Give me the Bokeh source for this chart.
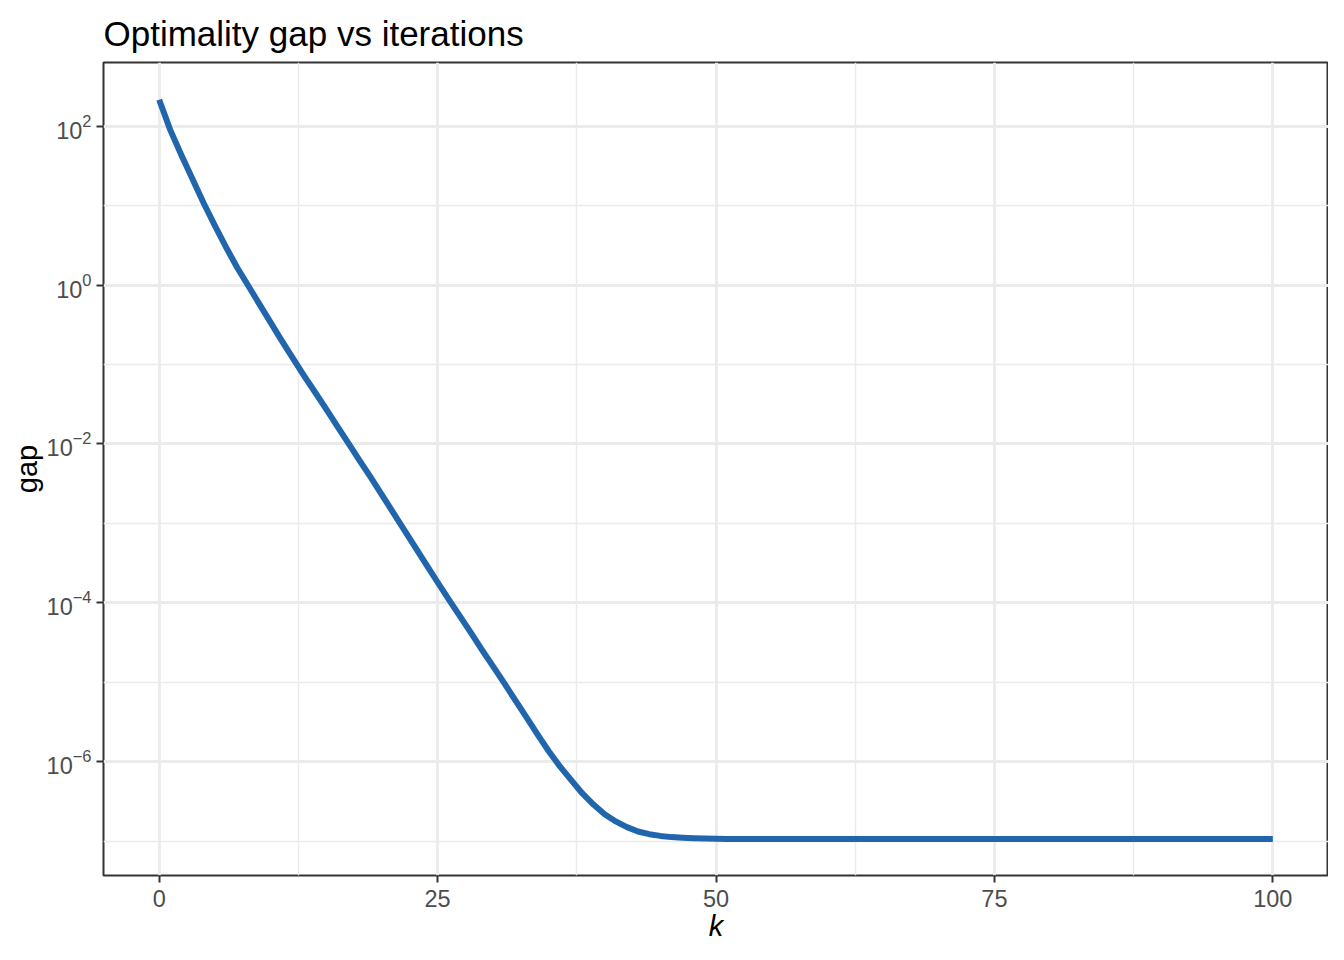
from bokeh.plotting import figure
from bokeh.models import Range1d, FixedTicker, LogTickFormatter
from bokeh.embed import file_html
from bokeh.resources import INLINE

# ---- data ----
k = list(range(101))
gap = [
    214, 89, 43, 21.4, 10.7, 5.6, 3.0, 1.66, 0.98, 0.575,
    0.339, 0.200, 0.120, 0.0724, 0.0447, 0.0275, 0.0166, 0.0102, 0.00617, 0.0038,
    0.00229, 0.00138, 0.000832, 0.000501, 0.000302, 0.000182, 0.000111, 6.8e-5, 4.2e-5, 2.55e-5,
    1.58e-5, 9.7e-6, 5.9e-6, 3.6e-6, 2.19e-6, 1.35e-6, 8.7e-7, 5.9e-7, 4.0e-7, 2.9e-7,
    2.19e-7, 1.78e-7, 1.51e-7, 1.33e-7, 1.23e-7, 1.17e-7, 1.13e-7, 1.11e-7, 1.095e-7, 1.085e-7,
    1.08e-7, 1.07e-7, 1.07e-7, 1.07e-7, 1.07e-7, 1.07e-7, 1.07e-7, 1.07e-7, 1.07e-7, 1.07e-7,
    1.07e-7, 1.07e-7, 1.07e-7, 1.07e-7, 1.07e-7, 1.07e-7, 1.07e-7, 1.07e-7, 1.07e-7, 1.07e-7,
    1.07e-7, 1.07e-7, 1.07e-7, 1.07e-7, 1.07e-7, 1.07e-7, 1.07e-7, 1.07e-7, 1.07e-7, 1.07e-7,
    1.07e-7, 1.07e-7, 1.07e-7, 1.07e-7, 1.07e-7, 1.07e-7, 1.07e-7, 1.07e-7, 1.07e-7, 1.07e-7,
    1.07e-7, 1.07e-7, 1.07e-7, 1.07e-7, 1.07e-7, 1.07e-7, 1.07e-7, 1.07e-7, 1.07e-7, 1.07e-7,
    1.07e-7,
]
x_ticks = [0, 25, 50, 75, 100]
x_minor = [12.5, 37.5, 62.5, 87.5]
y_ticks = [1e2, 1e0, 1e-2, 1e-4, 1e-6]
y_minor = [1e1, 1e-1, 1e-3, 1e-5, 1e-7]

FONT = "Liberation Sans"

p = figure(
    width=1328, height=944,
    y_axis_type="log",
    x_range=Range1d(-5, 105),
    y_range=Range1d(10 ** -7.43, 10 ** 2.80),
    output_backend="svg", toolbar_location=None,
    min_border_left=103, min_border_right=0,
    min_border_top=62, min_border_bottom=69,
)
p.background_fill_color = "white"
p.border_fill_color = "white"
p.outline_line_color = "#333333"
p.outline_line_width = 2

p.title.text = "Optimality gap vs iterations"
p.title.text_font = FONT
p.title.text_font_size = "35px"
p.title.text_font_style = "normal"
p.title.text_color = "black"
p.title.align = "left"
p.title.vertical_align = "top"
p.title.standoff = 16

xt = FixedTicker(ticks=x_ticks, minor_ticks=x_minor)
yt = FixedTicker(ticks=y_ticks, minor_ticks=y_minor)
p.xaxis.ticker = xt
p.yaxis.ticker = yt
p.xgrid.ticker = xt
p.ygrid.ticker = yt
p.yaxis.formatter = LogTickFormatter()

for ax in (p.xaxis[0], p.yaxis[0]):
    ax.axis_line_color = None
    ax.major_tick_line_color = "#333333"
    ax.major_tick_line_width = 2
    ax.major_tick_out = 7
    ax.major_tick_in = 0
    ax.minor_tick_line_color = None
    ax.major_label_text_font = FONT
    ax.major_label_text_font_size = "23.5px"
    ax.major_label_text_color = "#4D4D4D"
    ax.axis_label_text_font = FONT
    ax.axis_label_text_font_size = "29px"
    ax.axis_label_text_color = "black"

p.xaxis.major_label_standoff = 7
p.yaxis.major_label_standoff = 5
p.xaxis.axis_label = "k"
p.xaxis.axis_label_text_font_style = "italic"
p.xaxis.axis_label_standoff = 0
p.yaxis.axis_label = "gap"
p.yaxis.axis_label_text_font_style = "normal"
p.yaxis.axis_label_standoff = 1

for g in (p.xgrid[0], p.ygrid[0]):
    g.grid_line_color = "#EBEBEB"
    g.grid_line_width = 2.8
    g.minor_grid_line_color = "#EBEBEB"
    g.minor_grid_line_width = 1.4

p.line(k, gap, line_width=6, line_color="#2166AC", line_join="round")

open("out.html", "w").write(file_html(p, INLINE))
